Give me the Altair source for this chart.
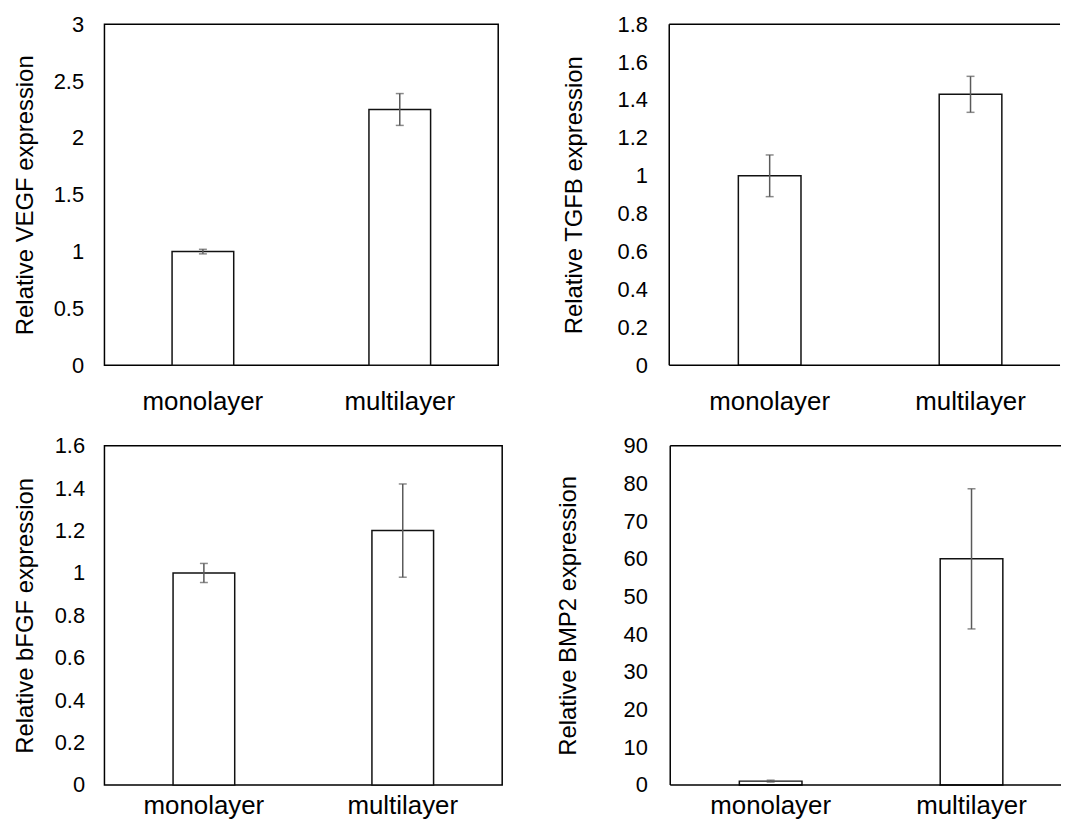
import altair as alt
import pandas as pd

groups = ["monolayer", "multilayer"]

vegf_mean = [1.0, 2.25]
vegf_err = [0.02, 0.14]
tgfb_mean = [1.0, 1.43]
tgfb_err = [0.11, 0.095]
bfgf_mean = [1.0, 1.2]
bfgf_err = [0.045, 0.22]
bmp2_mean = [1.0, 60.0]
bmp2_err = [0.25, 18.6]

vegf_ticks = [0, 0.5, 1, 1.5, 2, 2.5, 3]
tgfb_ticks = [0, 0.2, 0.4, 0.6, 0.8, 1, 1.2, 1.4, 1.6, 1.8]
bfgf_ticks = [0, 0.2, 0.4, 0.6, 0.8, 1, 1.2, 1.4, 1.6]
bmp2_ticks = [0, 10, 20, 30, 40, 50, 60, 70, 80, 90]

FONT = "Liberation Sans"
ERR_COLOR = "#5a5a5a"
FRAME = "black"


def panel(mean, err, title, ticks, ymax, width, height, bar_w, title_pad, label_pad,
          xlabel_pad, open_right=False, step=None):
    df = pd.DataFrame({"group": groups, "mean": mean, "err": err})
    base = alt.Chart(df).transform_calculate(
        lo="datum.mean - datum.err", hi="datum.mean + datum.err"
    )
    if step:
        # the panel is cut at the right edge: keep the band step of the full panel
        pi = 0.5
        po = (width / step - (2 - pi)) / 2
        al = (step / 2 - step * (1 - pi) / 2) / (width - step * (2 - pi))
        xscale = alt.Scale(paddingInner=pi, paddingOuter=po, align=al)
    else:
        xscale = alt.Scale(paddingInner=0, paddingOuter=0)
    xenc = alt.X(
        "group:N",
        sort=groups,
        scale=xscale,
        axis=alt.Axis(
            title=None, labelAngle=0, ticks=False, domain=False, grid=False,
            labelPadding=xlabel_pad, labelFontSize=26, labelFont=FONT, labelColor="black",
        ),
    )
    yscale = alt.Scale(domain=[0, ymax], nice=False, zero=True)
    yenc = alt.Y(
        "mean:Q",
        scale=yscale,
        axis=alt.Axis(
            title=title, values=ticks, tickCount=len(ticks), format="~r",
            labelOverlap=False, ticks=False, tickSize=0,
            domain=False, grid=False, labelPadding=label_pad, labelFontSize=22,
            labelFont=FONT, labelColor="black", titleFont=FONT, titleFontSize=24,
            titleFontWeight="normal", titleColor="black", titlePadding=title_pad,
            minExtent=55, maxExtent=55,
        ),
    )
    bars = base.mark_bar(width=bar_w, fill="white", stroke="#111111", strokeWidth=1.5).encode(
        x=xenc, y=yenc
    )
    xs = alt.X("group:N", sort=groups)
    rule = base.mark_rule(color=ERR_COLOR, strokeWidth=1.5).encode(
        x=xs, y=alt.Y("lo:Q", scale=yscale), y2="hi:Q"
    )
    tlo = base.mark_tick(color=ERR_COLOR, size=8, thickness=1.5).encode(
        x=xs, y=alt.Y("lo:Q", scale=yscale)
    )
    thi = base.mark_tick(color=ERR_COLOR, size=8, thickness=1.5).encode(
        x=xs, y=alt.Y("hi:Q", scale=yscale)
    )
    layers = [bars, rule, tlo, thi]
    if open_right:
        one = alt.Chart(pd.DataFrame({"k": [0]}))
        top = one.mark_rule(color=FRAME, strokeWidth=1.5).encode(
            x=alt.value(0), x2=alt.value(width), y=alt.value(0))
        bottom = one.mark_rule(color=FRAME, strokeWidth=1.5).encode(
            x=alt.value(0), x2=alt.value(width), y=alt.value(height))
        left = one.mark_rule(color=FRAME, strokeWidth=1.5).encode(
            x=alt.value(0), y=alt.value(0), y2=alt.value(height))
        layers += [top, bottom, left]
        return alt.layer(*layers).properties(
            width=width, height=height, view=alt.ViewBackground(stroke="transparent")
        )
    return alt.layer(*layers).properties(width=width, height=height)


p1 = panel(vegf_mean, vegf_err, "Relative VEGF expression", vegf_ticks, 3, 396, 343, 62, 12, 21, 23)
p2 = panel(tgfb_mean, tgfb_err, "Relative TGFB expression", tgfb_ticks, 1.8, 393, 343, 63, 28, 22, 23,
           open_right=True, step=202)
p3 = panel(bfgf_mean, bfgf_err, "Relative bFGF expression", bfgf_ticks, 1.6, 400, 341, 62, 12, 20, 8)
p4 = panel(bmp2_mean, bmp2_err, "Relative BMP2 expression", bmp2_ticks, 90, 393, 341, 63, 35, 23, 8,
           open_right=True, step=202)

row1 = alt.hconcat(p1, p2, spacing=63)
row2 = alt.hconcat(p3, p4, spacing=53)

chart = (
    alt.vconcat(row1, row2, spacing=19)
    .properties(padding={"left": 5, "top": 2, "right": 0, "bottom": -1})
    .configure(font=FONT, background="white")
    .configure_view(stroke="black", strokeWidth=1.5)
)

chart.save("out.html", embed_options={"renderer": "svg", "actions": False})
